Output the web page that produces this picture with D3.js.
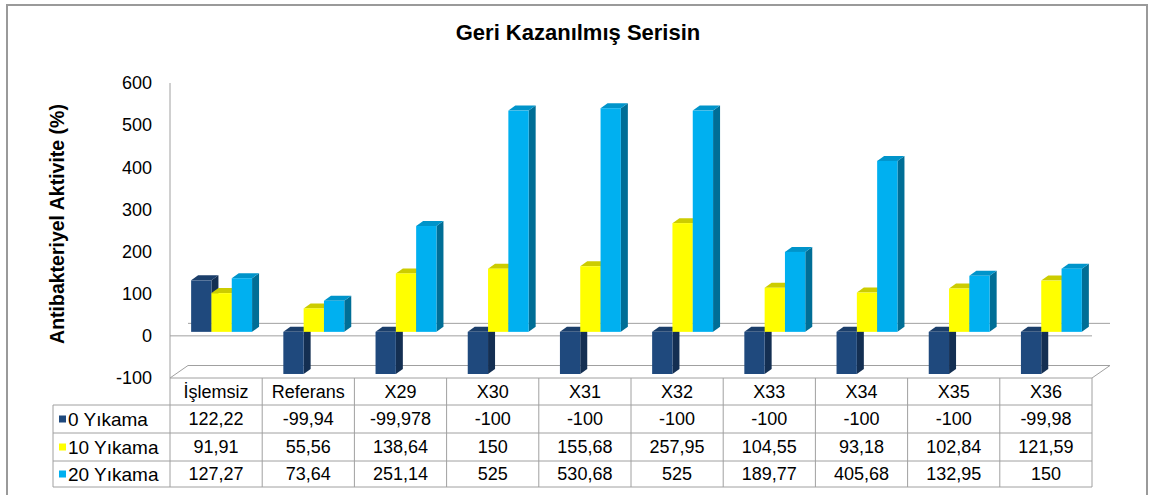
<!DOCTYPE html>
<html>
<head>
<meta charset="utf-8">
<script src="https://cdn.jsdelivr.net/npm/d3@7"></script>
<style>
    body { margin: 0; background: #fff; }
    svg { display: block; }
    text { font-family: "Liberation Sans", Arial, sans-serif; fill: #000; }
</style>
</head>
<body>
<div id="chart"></div>
<script>
// Data
const categories = ['İşlemsiz', 'Referans', 'X29', 'X30', 'X31', 'X32', 'X33', 'X34', 'X35', 'X36'];
const seriesNames = ['0 Yıkama', '10 Yıkama', '20 Yıkama'];
const wash0 = [122.22, -99.94, -99.978, -100, -100, -100, -100, -100, -100, -99.98];
const wash10 = [91.91, 55.56, 138.64, 150, 155.68, 257.95, 104.55, 93.18, 102.84, 121.59];
const wash20 = [127.27, 73.64, 251.14, 525, 530.68, 525, 189.77, 405.68, 132.95, 150];
const yTicks = [-100, 0, 100, 200, 300, 400, 500, 600];

const seriesValues = [wash0, wash10, wash20];
const colors = [
    { front: '#1F497D', top: '#1B3E6A', side: '#142F52' },
    { front: '#FFFF00', top: '#CCCC00', side: '#A8A800' },
    { front: '#00B0F0', top: '#0094CA', side: '#006E96' }
];

const W = 1155, H = 495;
const xL = 170, xR = 1092;          // front plane of the plot
const DX = 18, DY = -12.5;          // full depth of the 3D box
const BX = 5.5, BY = -4;            // where the bars sit in depth
const BDX = 7, BDY = -5;            // bar thickness
const FS = 18;                      // body font size
const grey = '#A0A0A0';

const svg = d3.select('#chart').append('svg')
    .attr('width', W)
    .attr('height', H);

// outer frame
svg.append('rect')
    .attr('x', 7).attr('y', 5)
    .attr('width', 1140).attr('height', 520)
    .attr('fill', 'none')
    .attr('stroke', '#9a9a9a')
    .attr('stroke-width', 2);

// title
svg.append('text')
    .attr('x', 578).attr('y', 40)
    .attr('text-anchor', 'middle')
    .attr('font-size', 22)
    .attr('font-weight', 'bold')
    .text('Geri Kazanılmış Serisin');

// scales
const y = d3.scaleLinear().domain([-100, 600]).range([378, 83]);
const x0 = d3.scaleBand().domain(categories).range([xL, xR]);
const x1 = d3.scaleBand().domain(seriesNames).range([0, x0.bandwidth()]).paddingOuter(0.77);

// y axis line and labels
svg.append('line')
    .attr('x1', xL).attr('x2', xL)
    .attr('y1', y(600)).attr('y2', 487)
    .attr('stroke', grey);

svg.append('g').selectAll('text')
    .data(yTicks)
    .join('text')
    .attr('x', 152).attr('y', d => y(d))
    .attr('dy', '0.35em')
    .attr('text-anchor', 'end')
    .attr('font-size', FS)
    .text(d => d);

svg.append('text')
    .attr('transform', `translate(64,224) rotate(-90)`)
    .attr('text-anchor', 'middle')
    .attr('font-size', 19.5)
    .attr('font-weight', 'bold')
    .text('Antibakteriyel Aktivite (%)');

// floor outline and the zero plane
const frame = svg.append('g').attr('stroke', grey).attr('fill', 'none');
frame.append('path')
    .attr('d', `M${xL},${y(-100)} L${xL + DX},${y(-100) + DY} L${xR + DX},${y(-100) + DY} L${xR},${y(-100)}`);
frame.append('line')
    .attr('x1', xL + DX).attr('x2', xR + DX)
    .attr('y1', y(0) + DY).attr('y2', y(0) + DY);
frame.append('line')
    .attr('x1', xL).attr('x2', xR)
    .attr('y1', y(0)).attr('y2', y(0));

// bars, drawn left to right so the next front face hides the side
const bars = [];
categories.forEach((c, i) => {
    seriesNames.forEach((s, j) => {
        bars.push({ cat: c, series: j, value: seriesValues[j][i] });
    });
});

const barG = svg.append('g')
    .selectAll('g')
    .data(bars)
    .join('g');

barG.each(function (d) {
    const g = d3.select(this);
    const col = colors[d.series];
    const bx = x0(d.cat) + x1(seriesNames[d.series]) + BX;
    const bw = x1.bandwidth();
    const yTop = Math.min(y(d.value), y(0)) + BY;
    const yBot = Math.max(y(d.value), y(0)) + BY;
    // side face
    g.append('path')
        .attr('d', `M${bx + bw},${yTop} L${bx + bw + BDX},${yTop + BDY} L${bx + bw + BDX},${yBot + BDY} L${bx + bw},${yBot} Z`)
        .attr('fill', col.side);
    // top face
    g.append('path')
        .attr('d', `M${bx},${yTop} L${bx + BDX},${yTop + BDY} L${bx + bw + BDX},${yTop + BDY} L${bx + bw},${yTop} Z`)
        .attr('fill', col.top);
    // front face
    g.append('rect')
        .attr('x', bx).attr('y', yTop)
        .attr('width', bw).attr('height', yBot - yTop)
        .attr('fill', col.front);
});

// data table
const rowLines = [405, 433, 461, 487];
const rowMid = [419, 447, 474];
const table = svg.append('g').attr('stroke', grey);
table.append('line')
    .attr('x1', xL).attr('x2', xR)
    .attr('y1', y(-100)).attr('y2', y(-100));
table.selectAll('line.row')
    .data(rowLines)
    .join('line')
    .attr('class', 'row')
    .attr('x1', 53).attr('x2', xR)
    .attr('y1', d => d).attr('y2', d => d);
table.append('line')
    .attr('x1', 53).attr('x2', 53)
    .attr('y1', rowLines[0]).attr('y2', rowLines[3]);
table.selectAll('line.col')
    .data(categories)
    .join('line')
    .attr('class', 'col')
    .attr('x1', d => x0(d) + x0.step()).attr('x2', d => x0(d) + x0.step())
    .attr('y1', y(-100)).attr('y2', rowLines[3]);

const fmt = v => String(v).replace('.', ',');

svg.append('g').selectAll('text')
    .data(categories)
    .join('text')
    .attr('x', d => x0(d) + x0.bandwidth() / 2).attr('y', 391.5)
    .attr('dy', '0.35em')
    .attr('text-anchor', 'middle')
    .attr('font-size', FS)
    .text(d => d);

seriesNames.forEach((s, j) => {
    const row = svg.append('g');
    row.append('rect')
        .attr('x', 59).attr('y', rowMid[j] - 3.5)
        .attr('width', 7).attr('height', 7)
        .attr('fill', colors[j].front);
    row.append('text')
        .attr('x', 68).attr('y', rowMid[j])
        .attr('dy', '0.35em')
        .attr('font-size', 19)
        .text(s);
    row.selectAll('text.val')
        .data(seriesValues[j])
        .join('text')
        .attr('class', 'val')
        .attr('x', (d, i) => x0(categories[i]) + x0.bandwidth() / 2).attr('y', rowMid[j])
        .attr('dy', '0.35em')
        .attr('text-anchor', 'middle')
        .attr('font-size', FS)
        .text(d => fmt(d));
});
</script>
</body>
</html>
